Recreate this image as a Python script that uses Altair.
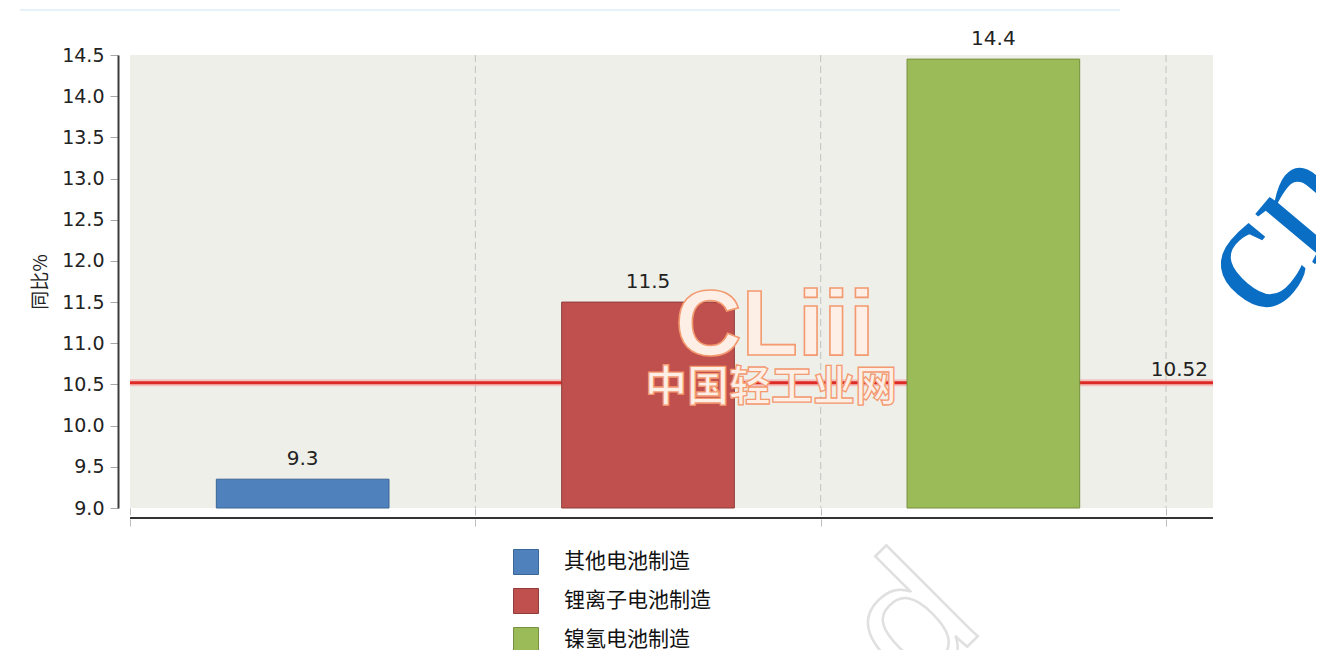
import altair as alt
import pandas as pd

# ---- data ----
categories = ["其他电池制造", "锂离子电池制造", "镍氢电池制造"]
values = [9.35, 11.5, 14.45]          # bar tops as drawn
labels = ["9.3", "11.5", "14.4"]       # printed value labels
colors = ["#4f81bd", "#c0504d", "#9bbb59"]
edge_colors = ["#3b6698", "#8f3c3a", "#76903f"]
mean_value = [10.52]
mean_label = ["10.52"]
y_ticks = [9.0, 9.5, 10.0, 10.5, 11.0, 11.5, 12.0, 12.5, 13.0, 13.5, 14.0, 14.5]
x_ticks = [0, 1, 2, 3]
boundaries = [1, 2, 3]

W, H = 1083, 453

df = pd.DataFrame({"cat": categories, "value": values, "label": labels})
df["idx"] = range(len(df))
df["x0"] = df["idx"] + 0.25
df["x1"] = df["idx"] + 0.75
df["xc"] = df["idx"] + 0.5
df["base"] = 9.0

xscale = alt.Scale(domain=[0, 3.136], nice=False, zero=False)
yscale = alt.Scale(domain=[9.0, 14.5], nice=False, zero=False)

x_axis = alt.Axis(values=x_ticks, labels=False, domain=False, grid=False, title=None,
                  tickSize=20, tickColor="#bdbdbd", tickWidth=1, tickDash=[7, 4])
y_axis = alt.Axis(values=y_ticks, format=".1f", offset=12, grid=False,
                  domainColor="#3c3c3c", domainWidth=2,
                  tickColor="#a8a8a8", tickSize=8, tickWidth=1,
                  labelFont="DejaVu Sans", labelFontSize=19, labelColor="#222222",
                  labelPadding=6,
                  title="同比%", titleFont="Noto Sans CJK SC", titleFontSize=19,
                  titleFontWeight="normal", titleColor="#222222", titlePadding=11)

grid = alt.Chart(pd.DataFrame({"b": boundaries})).mark_rule(
    color="#c2c2c2", strokeDash=[7, 4], strokeWidth=1
).encode(x=alt.X("b:Q", scale=xscale, axis=x_axis))

mean_df = pd.DataFrame({"m": mean_value, "t": mean_label})
mean_glow = alt.Chart(mean_df).mark_rule(color="#f5a3a3", strokeWidth=7, opacity=0.6).encode(
    y=alt.Y("m:Q", scale=yscale, axis=y_axis))
mean_line = alt.Chart(mean_df).mark_rule(color="#dd2a25", strokeWidth=3).encode(
    y=alt.Y("m:Q", scale=yscale, axis=y_axis))
mean_text = alt.Chart(mean_df).mark_text(
    align="right", baseline="alphabetic", dy=-7, font="DejaVu Sans", fontSize=20, color="#222222"
).encode(x=alt.value(W - 5), y=alt.Y("m:Q", scale=yscale, axis=y_axis), text="t:N")

bars = alt.Chart(df).mark_bar(strokeWidth=1).encode(
    x=alt.X("x0:Q", scale=xscale, axis=x_axis),
    x2="x1:Q",
    y=alt.Y("base:Q", scale=yscale, axis=y_axis),
    y2="value:Q",
    color=alt.Color("cat:N", scale=alt.Scale(domain=categories, range=colors), sort=categories,
                    legend=alt.Legend(title=None, orient="none", legendX=383, legendY=494,
                                      symbolType="square", symbolSize=625,
                                      symbolStrokeWidth=1, symbolStrokeColor="#777777",
                                      symbolOpacity=1,
                                      labelFont="Noto Sans CJK SC", labelFontSize=21,
                                      labelColor="#111111", labelOffset=25,
                                      rowPadding=9, padding=0, labelLimit=400)),
    stroke=alt.Stroke("cat:N", scale=alt.Scale(domain=categories, range=edge_colors), legend=None),
)

bar_text = alt.Chart(df).mark_text(
    baseline="alphabetic", dy=-14, font="DejaVu Sans", fontSize=20, color="#222222"
).encode(x=alt.X("xc:Q", scale=xscale, axis=x_axis),
         y=alt.Y("value:Q", scale=yscale, axis=y_axis), text="label:N")

x_line = alt.Chart(pd.DataFrame({"k": [0]})).mark_rule(color="#333333", strokeWidth=2).encode(
    x=alt.value(0), x2=alt.value(W), y=alt.value(H + 10))
top_line = alt.Chart(pd.DataFrame({"k": [0]})).mark_rule(color="#e6f2f9", strokeWidth=2).encode(
    x=alt.value(-110), x2=alt.value(990), y=alt.value(-45))

# ---- watermarks ----
logo = alt.Chart(pd.DataFrame({"t": ["CLiii"]})).mark_text(
    font="Liberation Sans", fontWeight="bold", fontSize=92, baseline="alphabetic",
    color="#fdeee6", stroke="#f39a70", strokeWidth=1.6).encode(
    x=alt.value(645), y=alt.value(300), text="t:N")
logo2 = alt.Chart(pd.DataFrame({"t": ["中国轻工业网"]})).mark_text(
    font="Noto Sans CJK SC", fontWeight="bold", fontSize=42, baseline="middle",
    color="#fdeee6", stroke="#f39a70", strokeWidth=1.3).encode(
    x=alt.value(641), y=alt.value(333), text="t:N")
cn = alt.Chart(pd.DataFrame({"t": ["cn"]})).mark_text(
    font="Liberation Serif", fontSize=170, angle=310, align="left", baseline="alphabetic",
    color="#0a6ec4").encode(x=alt.value(1134), y=alt.value(270), text="t:N")
d_mark = alt.Chart(pd.DataFrame({"t": ["d"]})).mark_text(
    font="Liberation Sans", fontSize=178, angle=315, align="left", baseline="alphabetic",
    fillOpacity=0, stroke="#e0e0e0", strokeWidth=2.5).encode(
    x=alt.value(786), y=alt.value(643), text="t:N")

chart = alt.layer(
    grid, mean_glow, mean_line, bars, bar_text, mean_text, x_line, top_line,
    d_mark, logo, logo2, cn
).resolve_scale(color="independent", stroke="independent").properties(
    width=W, height=H,
    autosize=alt.AutoSizeParams(type="none"),
    padding={"left": 122, "top": 47, "right": 103, "bottom": 142},
).configure_view(fill="#efefe9", stroke=None)

chart.save("out.html", embed_options={"renderer": "svg", "actions": False})
